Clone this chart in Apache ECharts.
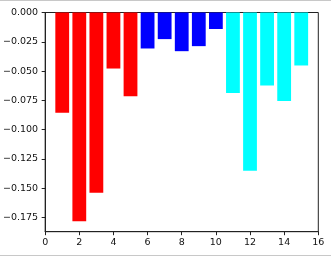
<!DOCTYPE html>
<html><head><meta charset="utf-8">
<script src="https://cdn.jsdelivr.net/npm/echarts@6/dist/echarts.min.js"></script>
<style>html,body{margin:0;padding:0;background:#fff}#w{position:relative;width:331px;height:257px;}#c{width:331px;height:257px;}
.ln{position:absolute;left:0;width:331px;height:1px;background:#c8c8c8;}</style>
</head><body><div id="w"><div id="c"></div><div class="ln" style="top:0"></div><div class="ln" style="top:255px"></div></div>
<script>
var xs = [1,2,3,4,5,6,7,8,9,10,11,12,13,14,15];
var values = [-0.0855,-0.178,-0.1537,-0.0478,-0.0715,-0.0307,-0.0227,-0.033,-0.0287,-0.0141,-0.0687,-0.1349,-0.0623,-0.0755,-0.0452];
var colors = ['#ff0000','#ff0000','#ff0000','#ff0000','#ff0000','#0000ff','#0000ff','#0000ff','#0000ff','#0000ff','#00ffff','#00ffff','#00ffff','#00ffff','#00ffff'];
var yTicks = [0,-0.025,-0.05,-0.075,-0.1,-0.125,-0.15,-0.175];
var xTicks = [0,2,4,6,8,10,12,14,16];

var chart = echarts.init(document.getElementById('c'), null, {renderer:'canvas'});
var font = 'DejaVu Sans';
var data = xs.map(function(x,i){return {value:[x, values[i]], itemStyle:{color:colors[i]}};});
chart.setOption({
  animation:false,
  grid:{left:42.7, right:12.7, top:12.5, bottom:25.3, show:true, borderColor:'#222', borderWidth:1},
  xAxis:{type:'value', min:0, max:16,
    axisLine:{show:true, onZero:false, lineStyle:{color:'#222', width:1}},
    axisTick:{show:true, length:3.5, lineStyle:{color:'#222'}, customValues:xTicks},
    axisLabel:{margin:6, fontFamily:font, fontSize:9.5, color:'#111', customValues:xTicks},
    splitLine:{show:false}},
  yAxis:{type:'value', min:-0.187, max:0,
    axisLine:{show:true, lineStyle:{color:'#222', width:1}},
    axisTick:{show:true, length:3.5, lineStyle:{color:'#222'}, customValues:yTicks},
    axisLabel:{margin:7, fontFamily:font, fontSize:9.5, color:'#111', customValues:yTicks,
      formatter:function(v){var s=Math.abs(v).toFixed(3); return (v<0?'\u2212':'')+s;}},
    splitLine:{show:false}},
  series:[{type:'bar', data:data, barWidth:13.8}]
});
</script></body></html>
